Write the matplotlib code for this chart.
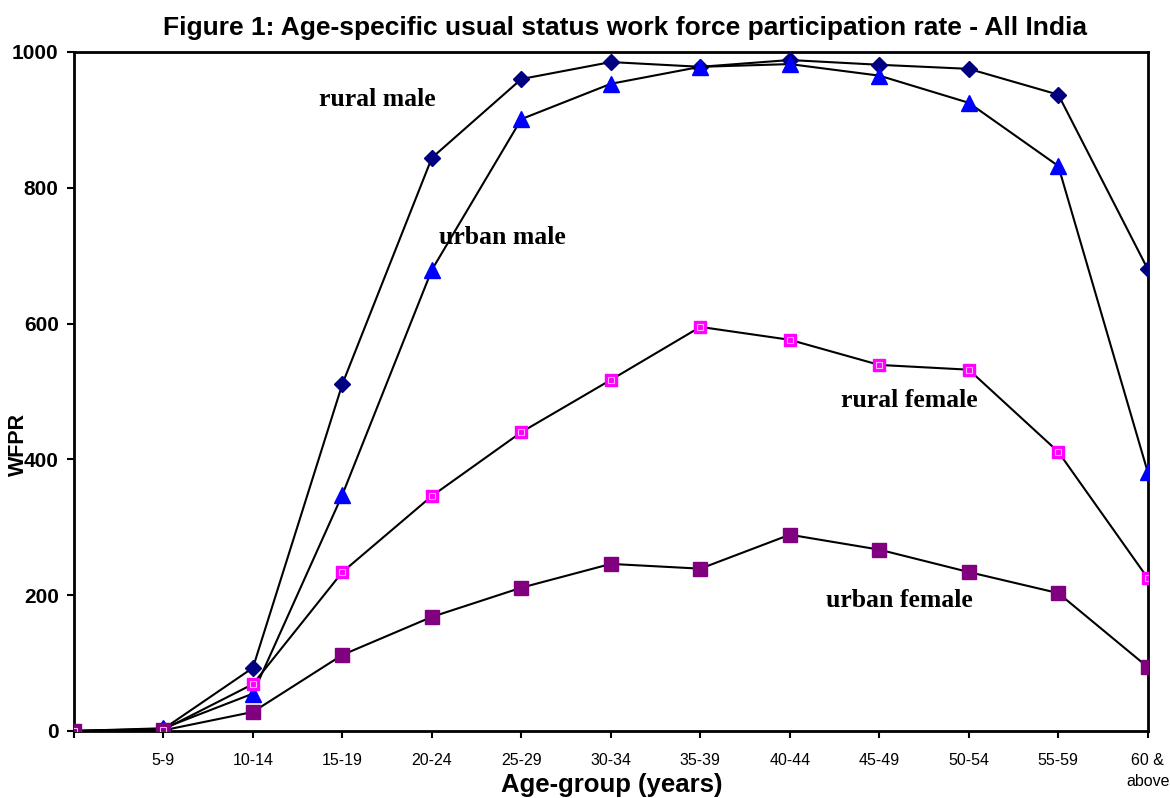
import matplotlib
matplotlib.use('Agg')
import matplotlib.pyplot as plt

# age groups (first one has no label on the chart)
age_groups = ['', '5-9', '10-14', '15-19', '20-24', '25-29', '30-34', '35-39',
              '40-44', '45-49', '50-54', '55-59', '60 &\nabove']

rural_male = [0, 3, 93, 511, 844, 960, 985, 978, 988, 981, 975, 937, 680]
urban_male = [0, 4, 55, 348, 679, 901, 953, 978, 982, 965, 925, 832, 381]
rural_female = [0, 2, 69, 234, 346, 440, 517, 595, 576, 539, 532, 411, 225]
urban_female = [0, 1, 28, 112, 168, 211, 246, 239, 289, 267, 234, 203, 94]

plt.rcParams['font.family'] = ['Liberation Sans', 'DejaVu Sans']

fig = plt.figure(figsize=(11.7, 7.98), dpi=100)
ax = fig.add_axes([0.0632, 0.084, 0.9178, 0.851])

x = list(range(len(age_groups)))

ax.plot(x, rural_male, color='black', lw=1.5, marker='D', ms=8,
        markerfacecolor='#000080', markeredgecolor='#000080', zorder=3)
ax.plot(x, urban_male, color='black', lw=1.5, marker='^', ms=11,
        markerfacecolor='#0000FF', markeredgecolor='#0000FF', zorder=3)
ax.plot(x, rural_female, color='black', lw=1.5, marker='s', ms=9,
        markerfacecolor='#FF00FF', markeredgecolor='#FF00FF', zorder=3)
# inner outline of the rural female marker
ax.plot(x, rural_female, ls='none', marker='s', ms=5,
        markerfacecolor='none', markeredgecolor='#FFB0FF', markeredgewidth=0.8, zorder=4)
ax.plot(x, urban_female, color='black', lw=1.5, marker='s', ms=10,
        markerfacecolor='#800080', markeredgecolor='#800080', zorder=3)

ax.set_xlim(0, len(age_groups) - 1)
ax.set_ylim(0, 1000)
ax.set_yticks([0, 200, 400, 600, 800, 1000])
ax.set_xticks(x)
ax.set_xticklabels(age_groups, fontsize=11.5, linespacing=1.5)
for lbl in ax.get_yticklabels():
    lbl.set_fontweight('bold')
    lbl.set_fontsize(15)
ax.tick_params(axis='x', direction='out', length=5, width=1.5, pad=11)
ax.tick_params(axis='y', direction='out', length=5, width=1.5, pad=6)
for s in ax.spines.values():
    s.set_linewidth(2)

fig.text(612 / 1170, 1 - 785 / 798, 'Age-group (years)', fontsize=18.5,
         fontweight='bold', ha='center', va='center')
fig.text(18 / 1170, 1 - 444 / 798, 'WFPR', fontsize=15.5, fontweight='bold',
         rotation=90, ha='center', va='center')
fig.text(625 / 1170, 1 - 28 / 798,
         'Figure 1: Age-specific usual status work force participation rate - All India',
         fontsize=19, fontweight='bold', ha='center', va='center')

serif = dict(fontsize=18.5, fontweight='bold', family='Liberation Serif', va='center', ha='left')
ax.text(2.74, 930, 'rural male', **serif)
ax.text(4.08, 727, 'urban male', **serif)
ax.text(8.57, 487, 'rural female', **serif)
ax.text(8.4, 192, 'urban female', **serif)

fig.savefig('out.png', dpi=100)
